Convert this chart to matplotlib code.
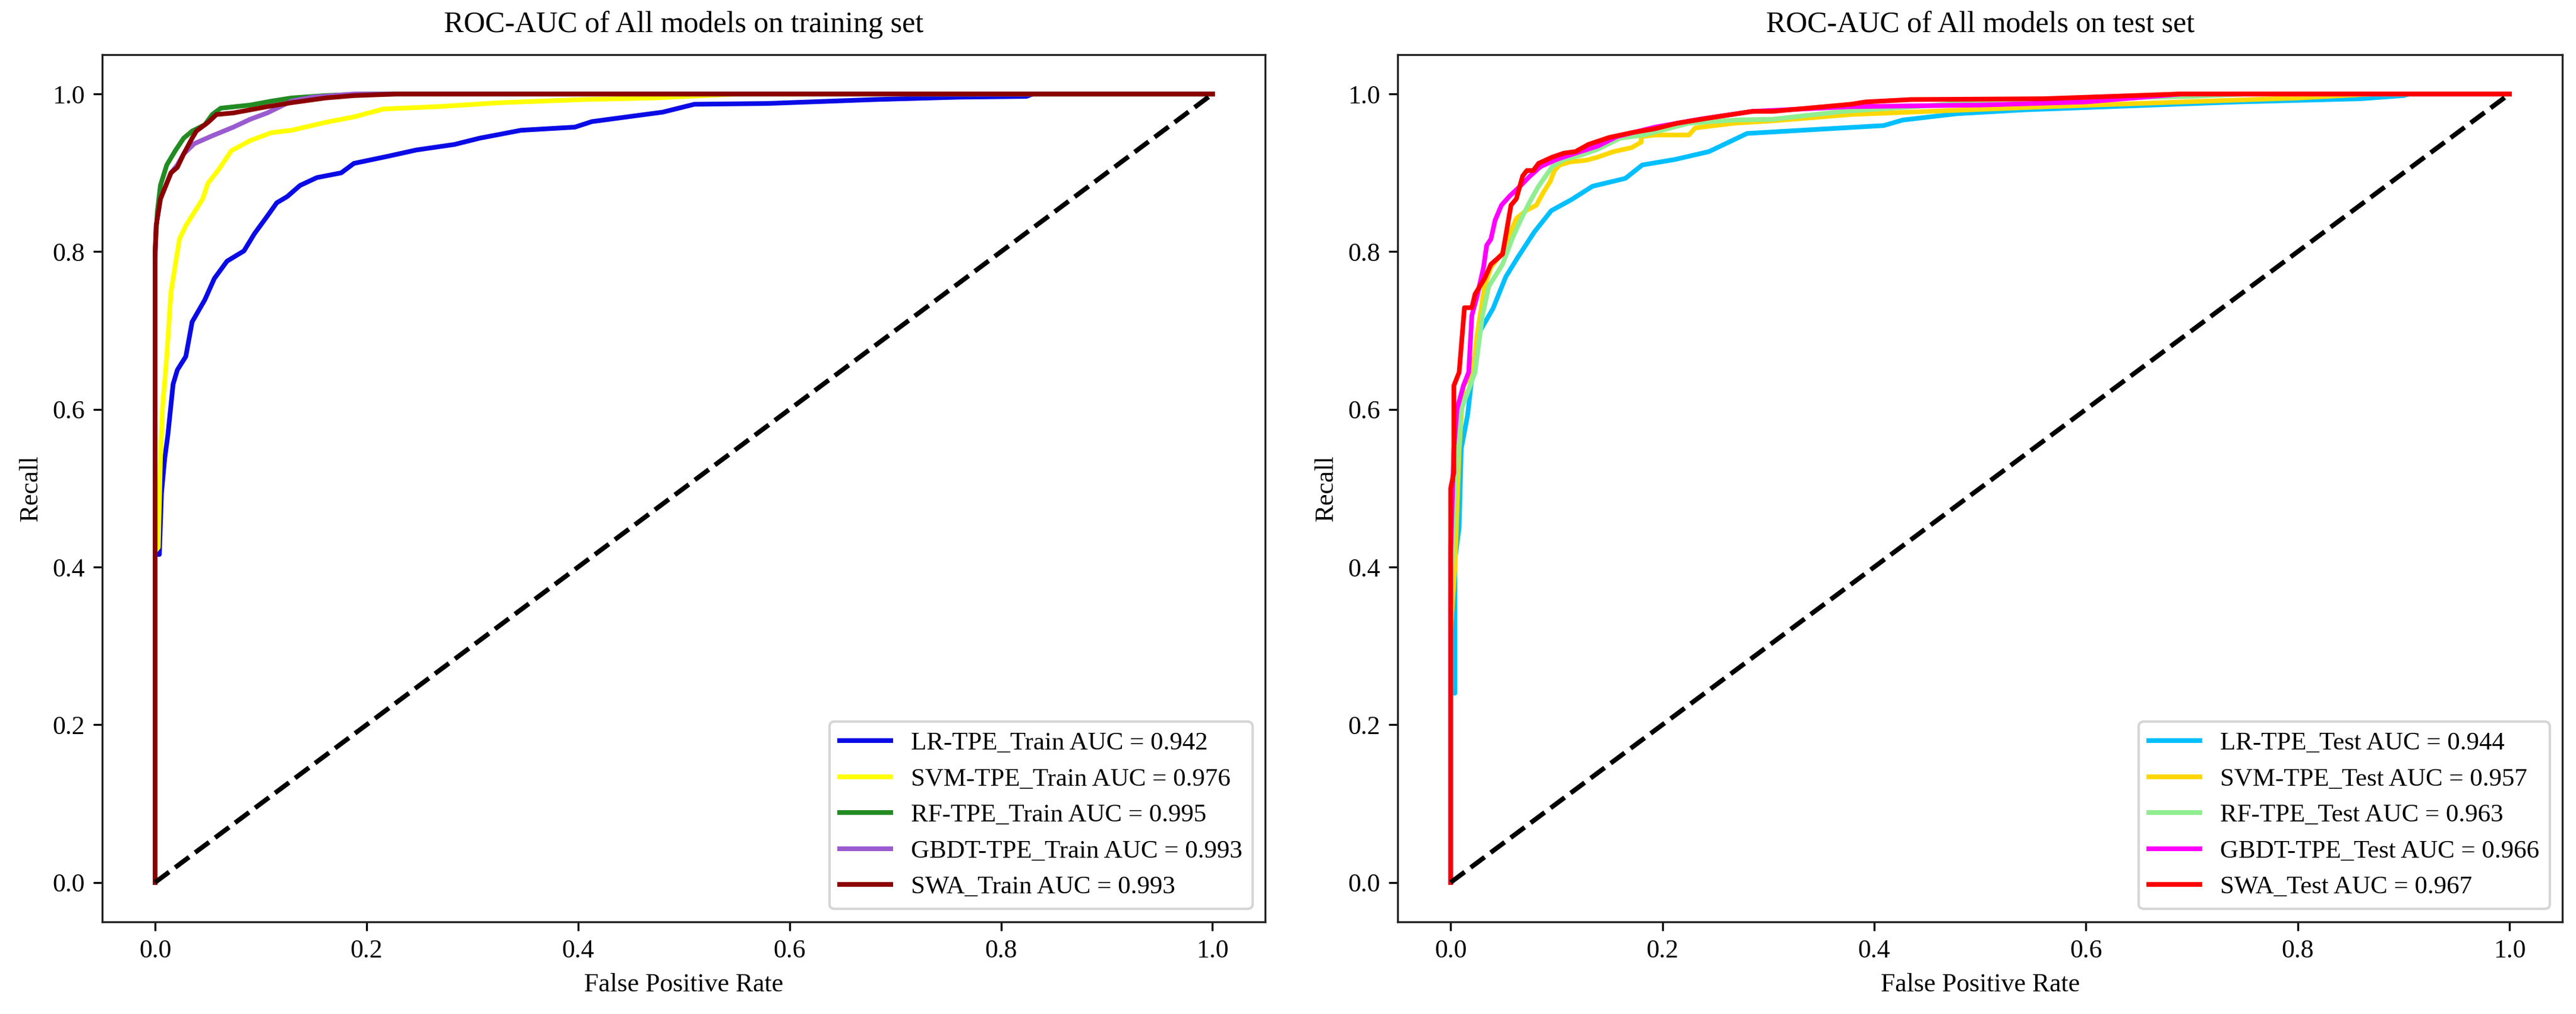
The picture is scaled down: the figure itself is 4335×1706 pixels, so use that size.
import numpy as np
import matplotlib
matplotlib.use('Agg')
import matplotlib.pyplot as plt

import matplotlib as mpl
mpl.rcParams['font.family'] = ['Liberation Serif', 'DejaVu Serif']
mpl.rcParams['xtick.labelsize'] = 10.5
mpl.rcParams['ytick.labelsize'] = 10.5

# ---------
#  training set curves
# ---------
lr_train_fpr = [0, 0, 0.004, 0.006, 0.009, 0.012, 0.014, 0.017, 0.021, 0.029, 0.035, 0.047, 0.056, 0.068, 0.084,
                0.094, 0.106, 0.115, 0.125, 0.137, 0.153, 0.176, 0.188, 0.220, 0.247, 0.283, 0.307, 0.346, 0.397,
                0.413, 0.452, 0.480, 0.510, 0.579, 0.681, 0.759, 0.824, 0.830, 1.0]
lr_train_tpr = [0, 0.416, 0.416, 0.494, 0.537, 0.567, 0.593, 0.632, 0.650, 0.667, 0.711, 0.739, 0.766, 0.788, 0.801,
                0.823, 0.845, 0.862, 0.870, 0.884, 0.894, 0.900, 0.912, 0.921, 0.929, 0.936, 0.944, 0.954, 0.958,
                0.965, 0.972, 0.977, 0.987, 0.988, 0.993, 0.996, 0.997, 1.0, 1.0]

svm_train_fpr = [0, 0, 0.003, 0.005, 0.007, 0.011, 0.015, 0.023, 0.029, 0.037, 0.045, 0.050, 0.060, 0.072, 0.090,
                 0.110, 0.129, 0.161, 0.188, 0.216, 0.267, 0.326, 0.405, 0.471, 0.55, 1.0]
svm_train_tpr = [0, 0.42, 0.425, 0.537, 0.602, 0.667, 0.749, 0.816, 0.833, 0.850, 0.867, 0.887, 0.904, 0.928, 0.941,
                 0.951, 0.954, 0.964, 0.971, 0.981, 0.984, 0.989, 0.993, 0.995, 1.0, 1.0]

rf_train_fpr = [0, 0, 0.002, 0.005, 0.011, 0.019, 0.027, 0.035, 0.047, 0.054, 0.062, 0.090, 0.110, 0.129, 0.161,
                0.20, 1.0]
rf_train_tpr = [0, 0.80, 0.850, 0.884, 0.910, 0.928, 0.944, 0.953, 0.961, 0.974, 0.982, 0.986, 0.991, 0.995, 0.998,
                1.0, 1.0]

gbdt_train_fpr = [0, 0, 0.001, 0.005, 0.015, 0.021, 0.027, 0.037, 0.054, 0.074, 0.090, 0.106, 0.129, 0.149, 0.188, 1.0]
gbdt_train_tpr = [0, 0.79, 0.833, 0.867, 0.900, 0.910, 0.924, 0.937, 0.947, 0.958, 0.968, 0.976, 0.991, 0.996, 1.0, 1.0]

swa_train_fpr = [0, 0, 0.001, 0.005, 0.015, 0.021, 0.027, 0.035, 0.039, 0.050, 0.058, 0.074, 0.106, 0.129, 0.161,
                 0.188, 0.228, 1.0]
swa_train_tpr = [0, 0.801, 0.833, 0.867, 0.900, 0.907, 0.924, 0.944, 0.953, 0.964, 0.974, 0.976, 0.984, 0.989, 0.995,
                 0.998, 1.0, 1.0]

# ---------
#  test set curves
# ---------
lr_test_fpr = [0, 0, 0.004, 0.004, 0.008, 0.010, 0.016, 0.022, 0.028, 0.040, 0.052, 0.063, 0.079, 0.095, 0.114,
               0.134, 0.165, 0.181, 0.212, 0.244, 0.280, 0.409, 0.427, 0.478, 0.542, 0.744, 0.859, 0.90, 0.905, 1.0]
lr_test_tpr = [0, 0.24, 0.24, 0.41, 0.45, 0.55, 0.593, 0.663, 0.700, 0.728, 0.768, 0.792, 0.825, 0.852, 0.866,
               0.883, 0.893, 0.910, 0.917, 0.927, 0.950, 0.960, 0.967, 0.975, 0.980, 0.990, 0.994, 0.998, 1.0, 1.0]

svm_test_fpr = [0, 0, 0.004, 0.008, 0.012, 0.021, 0.025, 0.032, 0.038, 0.049, 0.056, 0.062, 0.071, 0.081, 0.087,
                0.094, 0.098, 0.103, 0.113, 0.128, 0.139, 0.154, 0.171, 0.180, 0.180, 0.193, 0.225, 0.231, 0.268,
                0.304, 0.378, 0.564, 0.671, 0.80, 0.87, 1.0]
svm_test_tpr = [0, 0.32, 0.40, 0.55, 0.63, 0.647, 0.695, 0.756, 0.780, 0.799, 0.823, 0.842, 0.852, 0.859, 0.874,
                0.889, 0.903, 0.910, 0.914, 0.916, 0.920, 0.927, 0.932, 0.939, 0.946, 0.948, 0.948, 0.957, 0.963,
                0.966, 0.974, 0.984, 0.989, 0.995, 1.0, 1.0]

rf_test_fpr = [0, 0, 0.004, 0.010, 0.023, 0.030, 0.036, 0.049, 0.058, 0.066, 0.075, 0.083, 0.096, 0.107, 0.122,
               0.139, 0.160, 0.182, 0.225, 0.268, 0.304, 0.371, 0.45, 0.52, 0.70, 0.75, 1.0]
rf_test_tpr = [0, 0.36, 0.50, 0.60, 0.647, 0.719, 0.756, 0.784, 0.816, 0.840, 0.864, 0.883, 0.908, 0.917, 0.922,
               0.930, 0.944, 0.948, 0.963, 0.967, 0.968, 0.978, 0.985, 0.993, 0.997, 1.0, 1.0]

gbdt_test_fpr = [0, 0, 0.003, 0.006, 0.012, 0.017, 0.020, 0.025, 0.031, 0.034, 0.038, 0.042, 0.048, 0.056, 0.064,
                 0.075, 0.085, 0.100, 0.118, 0.139, 0.142, 0.157, 0.193, 0.235, 0.285, 0.378, 0.500, 0.60, 0.69, 1.0]
gbdt_test_tpr = [0, 0.42, 0.55, 0.60, 0.63, 0.647, 0.719, 0.744, 0.780, 0.808, 0.816, 0.840, 0.859, 0.871, 0.881,
                 0.896, 0.908, 0.917, 0.925, 0.934, 0.936, 0.946, 0.958, 0.968, 0.978, 0.984, 0.986, 0.990, 1.0, 1.0]

swa_test_fpr = [0, 0, 0.003, 0.003, 0.008, 0.013, 0.020, 0.023, 0.032, 0.038, 0.049, 0.057, 0.062, 0.068, 0.072,
                0.078, 0.083, 0.096, 0.107, 0.118, 0.130, 0.150, 0.171, 0.193, 0.214, 0.246, 0.285, 0.304, 0.378,
                0.392, 0.435, 0.560, 0.688, 1.0]
swa_test_tpr = [0, 0.50, 0.52, 0.63, 0.647, 0.729, 0.729, 0.746, 0.766, 0.784, 0.797, 0.859, 0.867, 0.896, 0.903,
                0.903, 0.912, 0.920, 0.925, 0.927, 0.936, 0.945, 0.951, 0.956, 0.963, 0.970, 0.978, 0.978, 0.987,
                0.990, 0.993, 0.994, 1.0, 1.0]

train_labels = ['LR-TPE_Train AUC = 0.942', 'SVM-TPE_Train AUC = 0.976', 'RF-TPE_Train AUC = 0.995',
                'GBDT-TPE_Train AUC = 0.993', 'SWA_Train AUC = 0.993']
test_labels = ['LR-TPE_Test AUC = 0.944', 'SVM-TPE_Test AUC = 0.957', 'RF-TPE_Test AUC = 0.963',
               'GBDT-TPE_Test AUC = 0.966', 'SWA_Test AUC = 0.967']

train_colors = ['#0a0ae6', 'yellow', 'forestgreen', '#9a5bd0', 'darkred']
test_colors = ['deepskyblue', 'gold', 'lightgreen', 'magenta', 'red']

train_curves = [(lr_train_fpr, lr_train_tpr), (svm_train_fpr, svm_train_tpr), (rf_train_fpr, rf_train_tpr),
                (gbdt_train_fpr, gbdt_train_tpr), (swa_train_fpr, swa_train_tpr)]
test_curves = [(lr_test_fpr, lr_test_tpr), (svm_test_fpr, svm_test_tpr), (rf_test_fpr, rf_test_tpr),
               (gbdt_test_fpr, gbdt_test_tpr), (swa_test_fpr, swa_test_tpr)]


def plot_roc(ax, curves, labels, colors, title):
    for (fpr, tpr), lab, col in zip(curves, labels, colors):
        ax.plot(fpr, tpr, color=col, linewidth=1.9, label=lab)
    ax.plot([0, 1], [0, 1], 'k--', linewidth=1.9)
    ax.set_title(title, fontsize=12, pad=9)
    ax.set_xlabel('False Positive Rate', fontsize=10.5)
    ax.set_ylabel('Recall', fontsize=10.5)
    ax.set_xticks([0.0, 0.2, 0.4, 0.6, 0.8, 1.0])
    ax.set_yticks([0.0, 0.2, 0.4, 0.6, 0.8, 1.0])
    for sp in ax.spines.values():
        sp.set_color('#222222')
    ax.legend(loc='lower right', fontsize=10.3)


fig = plt.figure(figsize=[14.45, 5.687])
ax1 = fig.add_axes([0.0397, 0.0909, 0.4515, 0.8552])
ax2 = fig.add_axes([0.5426, 0.0909, 0.4521, 0.8552])

plot_roc(ax1, train_curves, train_labels, train_colors, 'ROC-AUC of All models on training set')
plot_roc(ax2, test_curves, test_labels, test_colors, 'ROC-AUC of All models on test set')

plt.savefig('out.png', dpi=300, facecolor='white')
plt.close()
